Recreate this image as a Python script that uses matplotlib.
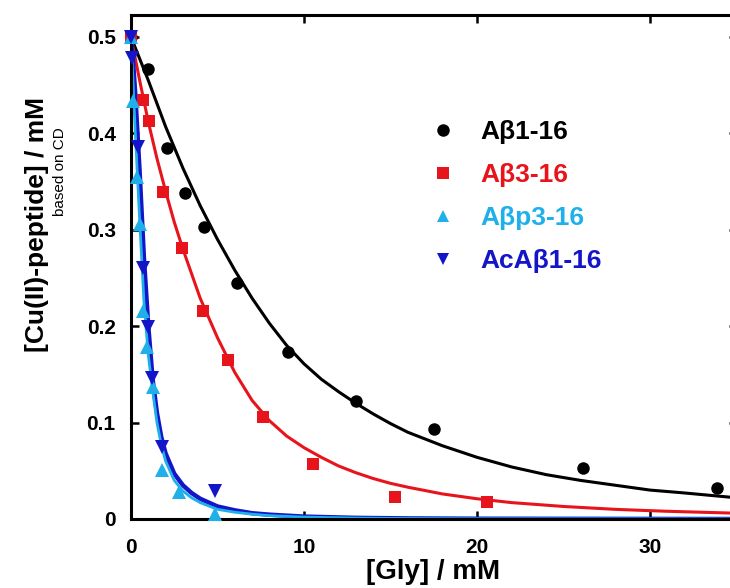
import matplotlib
matplotlib.use("Agg")
import matplotlib.pyplot as plt
from matplotlib.lines import Line2D

plt.rcParams['font.family'] = ['Liberation Sans', 'DejaVu Sans']

# ---- data ----
series_names = ["Aβ1-16", "Aβ3-16", "Aβp3-16", "AcAβ1-16"]
colors = ["#000000", "#e8141b", "#1fb0ea", "#1414c8"]

# measured points
ab116_x = [0, 1.0, 2.1, 3.1, 4.2, 6.1, 9.1, 13.0, 17.5, 26.1, 33.9]
ab116_y = [0.5, 0.467, 0.385, 0.338, 0.303, 0.245, 0.173, 0.122, 0.093, 0.053, 0.032]

ab316_x = [0, 0.7, 1.05, 1.85, 2.95, 4.15, 5.6, 7.65, 10.5, 15.25, 20.6]
ab316_y = [0.5, 0.435, 0.413, 0.339, 0.281, 0.216, 0.165, 0.106, 0.057, 0.023, 0.018]

abp316_x = [0, 0.12, 0.34, 0.5, 0.7, 0.9, 1.27, 1.8, 2.8, 4.86]
abp316_y = [0.5, 0.434, 0.355, 0.306, 0.216, 0.178, 0.137, 0.051, 0.028, 0.005]

acab116_x = [0, 0.06, 0.42, 0.7, 1.0, 1.2, 1.8, 4.86]
acab116_y = [0.5, 0.478, 0.386, 0.26, 0.199, 0.146, 0.075, 0.029]

# fitted curves
fit_black_x = [0, 1, 2, 3, 4, 5, 6, 7, 8, 9, 10, 11, 12, 13, 14, 15, 16, 18, 20, 22,
               24, 26, 28, 30, 32, 35]
fit_black_y = [0.5, 0.455, 0.407, 0.364, 0.325, 0.290, 0.258, 0.229, 0.203, 0.180,
               0.161, 0.145, 0.132, 0.120, 0.109, 0.099, 0.090, 0.076, 0.064, 0.054,
               0.046, 0.040, 0.035, 0.030, 0.027, 0.022]

fit_red_x = [0, 0.5, 1, 1.5, 2, 2.5, 3, 4, 5, 6, 7, 8, 9, 10, 11, 12, 13, 14, 15, 16,
             18, 20, 22, 25, 28, 31, 35]
fit_red_y = [0.5, 0.455, 0.412, 0.374, 0.340, 0.308, 0.280, 0.229, 0.188, 0.152, 0.123,
             0.102, 0.086, 0.074, 0.064, 0.055, 0.048, 0.042, 0.037, 0.033, 0.026,
             0.021, 0.017, 0.013, 0.010, 0.008, 0.006]

fit_dblue_x = [0, 0.1, 0.25, 0.5, 0.75, 1.0, 1.25, 1.5, 1.75, 2.0, 2.5, 3.0, 3.5, 4, 5,
               6, 7, 8, 10, 13, 16, 20, 35]
fit_dblue_y = [0.5, 0.48, 0.44, 0.36, 0.27, 0.20, 0.145, 0.11, 0.085, 0.068, 0.047,
               0.035, 0.027, 0.021, 0.013, 0.009, 0.006, 0.0045, 0.0025, 0.0012,
               0.0006, 0.0003, 0.0]

fit_lblue_x = [0, 0.1, 0.25, 0.5, 0.75, 1.0, 1.25, 1.5, 1.75, 2.0, 2.5, 3.0, 3.5, 4, 5,
               6, 7, 8, 10, 13, 16, 20, 35]
fit_lblue_y = [0.5, 0.46, 0.40, 0.31, 0.225, 0.17, 0.133, 0.10, 0.077, 0.060, 0.040,
               0.029, 0.022, 0.017, 0.010, 0.007, 0.005, 0.0035, 0.002, 0.001,
               0.0005, 0.0002, 0.0]

xticks = [0, 10, 20, 30]
xtick_labels = ["0", "10", "20", "30"]
yticks = [0, 0.1, 0.2, 0.3, 0.4, 0.5]
ytick_labels = ["0", "0.1", "0.2", "0.3", "0.4", "0.5"]

# ---- figure ----
W, H = 730, 588
fig = plt.figure(figsize=(W / 100, H / 100), dpi=100)
ax = fig.add_axes([131 / W, 69 / H, 605.5 / W, 504 / H])
ax.set_xlim(0, 35)
ax.set_ylim(0, 0.5228)

# fit lines
ax.plot(fit_black_x, fit_black_y, color=colors[0], lw=2.2, zorder=2)
ax.plot(fit_red_x, fit_red_y, color=colors[1], lw=2.2, zorder=2)
ax.plot(fit_dblue_x, fit_dblue_y, color=colors[3], lw=3.2, zorder=2)
ax.plot(fit_lblue_x, fit_lblue_y, color=colors[2], lw=2.0, zorder=2.1)

# data points
ms = 9
ax.plot(ab116_x, ab116_y, 'o', color=colors[0], ms=ms, mew=0, zorder=3, clip_on=False)
ax.plot(ab316_x, ab316_y, 's', color=colors[1], ms=ms, mew=0, zorder=3, clip_on=False)
ax.plot(abp316_x, abp316_y, '^', color=colors[2], ms=ms + 1, mew=0, zorder=3.1, clip_on=False)
ax.plot(acab116_x, acab116_y, 'v', color=colors[3], ms=ms + 1, mew=0, zorder=3.2, clip_on=False)

# legend
handles = [
    Line2D([], [], ls='none', marker='o', color=colors[0], ms=ms, mew=0),
    Line2D([], [], ls='none', marker='s', color=colors[1], ms=ms - 1, mew=0),
    Line2D([], [], ls='none', marker='^', color=colors[2], ms=ms, mew=0),
    Line2D([], [], ls='none', marker='v', color=colors[3], ms=ms, mew=0),
]
leg = ax.legend(handles, series_names, loc='upper left', bbox_to_anchor=(0.494, 0.792),
                frameon=False, borderpad=0, borderaxespad=0, handlelength=1.0,
                handletextpad=0.9, labelspacing=0.72,
                prop={'weight': 'bold', 'size': 19})
for t, c in zip(leg.get_texts(), colors):
    t.set_color(c)

# axes styling
for s in ax.spines.values():
    s.set_linewidth(2.2)
ax.set_xticks(xticks)
ax.set_xticklabels(xtick_labels)
ax.set_yticks(yticks)
ax.set_yticklabels(ytick_labels)
ax.tick_params(direction='in', length=6, width=1.8, top=True, right=True,
               labelsize=15)
ax.tick_params(axis='x', pad=14)
ax.tick_params(axis='y', pad=11)
for lab in ax.get_xticklabels() + ax.get_yticklabels():
    lab.set_fontweight('bold')

# axis labels
fig.text(433 / W, 1 - 572 / H, "[Gly] / mM", ha='center', va='center',
         fontsize=20, fontweight='bold')
fig.text(37 / W, 1 - 225 / H, "[Cu(II)-peptide] / mM", ha='center', va='center',
         rotation=90, fontsize=19, fontweight='bold')
fig.text(60 / W, 1 - 172 / H, "based on CD", ha='center', va='center',
         rotation=90, fontsize=11)

fig.savefig("out.png", dpi=100)
